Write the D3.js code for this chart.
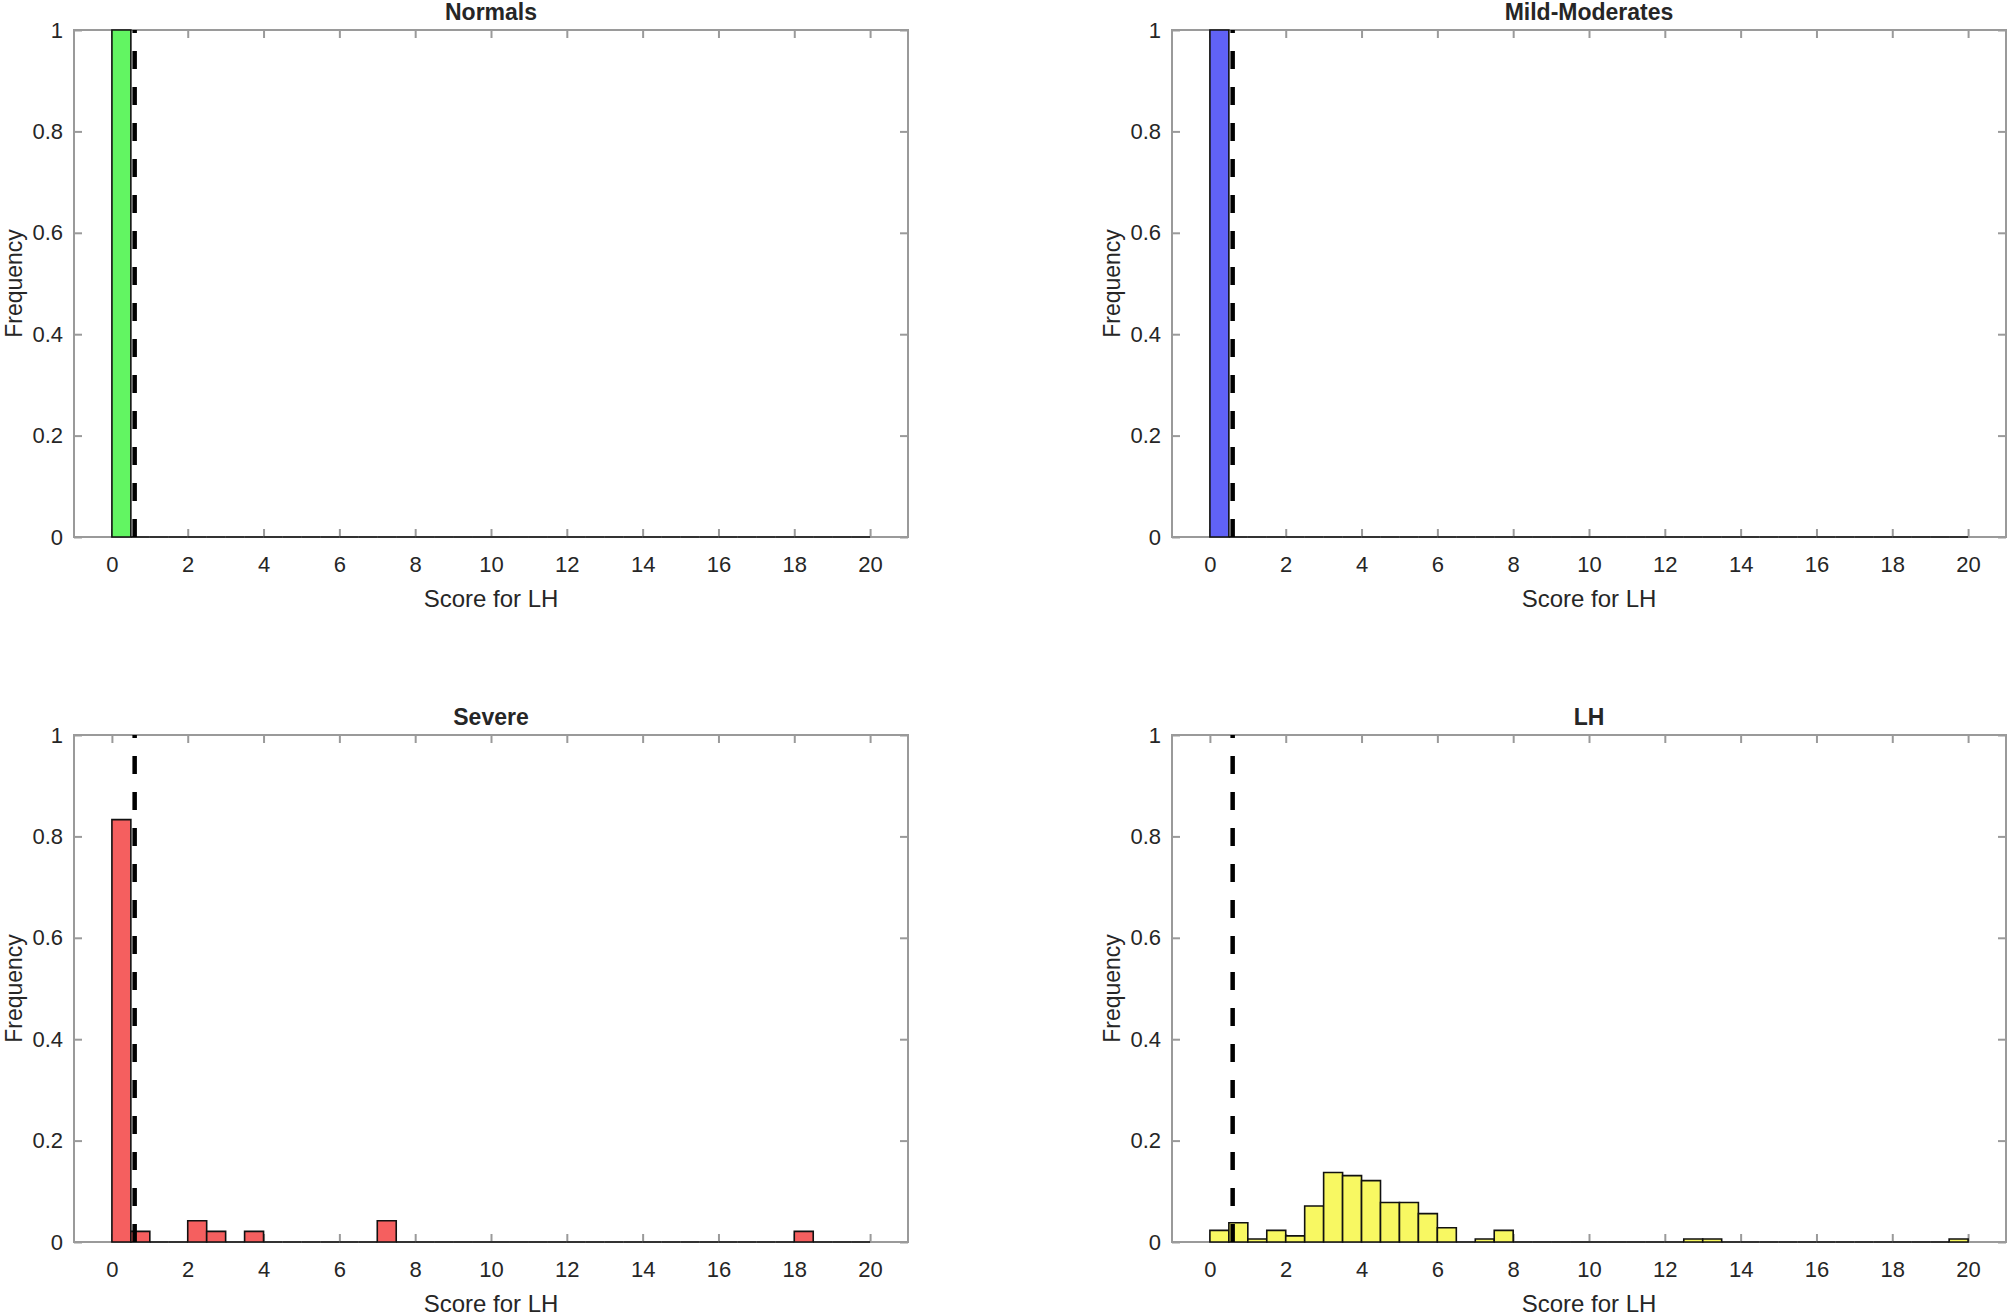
<!DOCTYPE html>
<html>
<head>
<meta charset="utf-8">
<script src="https://cdn.jsdelivr.net/npm/d3@7"></script>
<style>
	body { margin: 0; background: #fff; }
	svg { display: block; }
	text { font-family: "Liberation Sans", Arial, sans-serif; fill: #262626; }
</style>
</head>
<body>
<svg id="port" width="2008" height="1316"></svg>
<script>
// bin left edges (bin width 0.5)
var binStarts = [0, 0.5, 1, 1.5, 2, 2.5, 3, 3.5, 4, 4.5, 5, 5.5, 6, 6.5, 7, 7.5, 8, 8.5, 9, 9.5,
	10, 10.5, 11, 11.5, 12, 12.5, 13, 13.5, 14, 14.5, 15, 15.5, 16, 16.5, 17, 17.5, 18, 18.5, 19, 19.5];
var binWidth = 0.5;

var normalsFreq = [1, 0, 0, 0, 0, 0, 0, 0, 0, 0, 0, 0, 0, 0, 0, 0, 0, 0, 0, 0,
	0, 0, 0, 0, 0, 0, 0, 0, 0, 0, 0, 0, 0, 0, 0, 0, 0, 0, 0, 0];
var mildFreq = [1, 0, 0, 0, 0, 0, 0, 0, 0, 0, 0, 0, 0, 0, 0, 0, 0, 0, 0, 0,
	0, 0, 0, 0, 0, 0, 0, 0, 0, 0, 0, 0, 0, 0, 0, 0, 0, 0, 0, 0];
var severeFreq = [0.833, 0.021, 0, 0, 0.042, 0.021, 0, 0.021, 0, 0, 0, 0, 0, 0, 0.042, 0, 0, 0, 0, 0,
	0, 0, 0, 0, 0, 0, 0, 0, 0, 0, 0, 0, 0, 0, 0, 0, 0.021, 0, 0, 0];
var lhFreq = [0.023, 0.038, 0.006, 0.023, 0.012, 0.071, 0.137, 0.131, 0.121, 0.078, 0.078, 0.056, 0.028, 0, 0.006, 0.023, 0, 0, 0, 0,
	0, 0, 0, 0, 0, 0.006, 0.006, 0, 0, 0, 0, 0, 0, 0, 0, 0, 0, 0, 0, 0.006];

var titles = ['Normals', 'Mild-Moderates', 'Severe', 'LH'];
var series = [normalsFreq, mildFreq, severeFreq, lhFreq];
var barColors = ['#62f562', '#6062f6', '#f55f5f', '#f8f862'];
var cutoff = 0.6;

var xTicks = [0, 2, 4, 6, 8, 10, 12, 14, 16, 18, 20];
var yTicks = [0, 0.2, 0.4, 0.6, 0.8, 1];

var svg = d3.select('#port');
var plotW = 834, plotH = 507;
var lefts = [74, 1172, 74, 1172], tops = [30, 30, 735, 735];
var axisGray = '#9a9a9a';

var xScale = d3.scaleLinear().domain([-1, 21]).range([0, plotW]);
var yScale = d3.scaleLinear().domain([0, 1]).range([plotH, 0]);

titles.forEach(function (title, p) {
	var g = svg.append('g').attr('transform', 'translate(' + [lefts[p], tops[p]] + ')');

	// ticks, all pointing inward
	var bottom = g.append('g').attr('transform', 'translate(0,' + plotH + ')')
		.call(d3.axisBottom(xScale).tickValues(xTicks).tickSizeInner(-8).tickSizeOuter(0).tickPadding(19));
	var top = g.append('g')
		.call(d3.axisTop(xScale).tickValues(xTicks).tickSizeInner(-8).tickSizeOuter(0).tickFormat(''));
	var left = g.append('g')
		.call(d3.axisLeft(yScale).tickValues(yTicks).tickSizeInner(-8).tickSizeOuter(0).tickPadding(11).tickFormat(d3.format('~g')));
	var right = g.append('g').attr('transform', 'translate(' + plotW + ',0)')
		.call(d3.axisRight(yScale).tickValues(yTicks).tickSizeInner(-8).tickSizeOuter(0).tickFormat(''));

	[bottom, top, left, right].forEach(function (ax) {
		ax.select('.domain').remove();
		ax.selectAll('line').attr('stroke', axisGray).attr('stroke-width', 2);
		ax.selectAll('text').attr('font-size', 22).attr('fill', '#262626')
			.attr('font-family', '"Liberation Sans", Arial, sans-serif');
	});

	g.append('rect')
		.attr('x', 0).attr('y', 0)
		.attr('width', plotW).attr('height', plotH)
		.attr('fill', 'none')
		.attr('stroke', axisGray)
		.attr('stroke-width', 2);

	// histogram bars (zero bins still show as a line on the baseline)
	g.append('g').selectAll('path')
		.data(series[p])
		.enter()
		.append('path')
		.attr('d', function (d, i) {
			var x0 = xScale(binStarts[i]), x1 = xScale(binStarts[i] + binWidth);
			var y0 = yScale(0), y1 = yScale(d);
			return 'M' + x0 + ',' + y0 + 'V' + y1 + 'H' + x1 + 'V' + y0 + 'Z';
		})
		.attr('fill', barColors[p])
		.attr('stroke', '#111')
		.attr('stroke-width', 1.6)
		.attr('stroke-linejoin', 'miter');

	// cutoff line
	g.append('line')
		.attr('x1', xScale(cutoff)).attr('x2', xScale(cutoff))
		.attr('y1', yScale(0)).attr('y2', yScale(1))
		.attr('stroke', '#000')
		.attr('stroke-width', 4.5)
		.attr('stroke-dasharray', '18,18');

	g.append('text')
		.attr('x', plotW / 2).attr('y', -10)
		.attr('text-anchor', 'middle')
		.attr('font-size', 23).attr('font-weight', 'bold')
		.attr('fill', '#000')
		.text(title);

	g.append('text')
		.attr('x', plotW / 2).attr('y', plotH + 70)
		.attr('text-anchor', 'middle')
		.attr('font-size', 24)
		.text('Score for LH');

	g.append('text')
		.attr('transform', 'translate(' + [-52, plotH / 2] + ') rotate(-90)')
		.attr('text-anchor', 'middle')
		.attr('font-size', 23)
		.text('Frequency');
});
</script>
</body>
</html>
